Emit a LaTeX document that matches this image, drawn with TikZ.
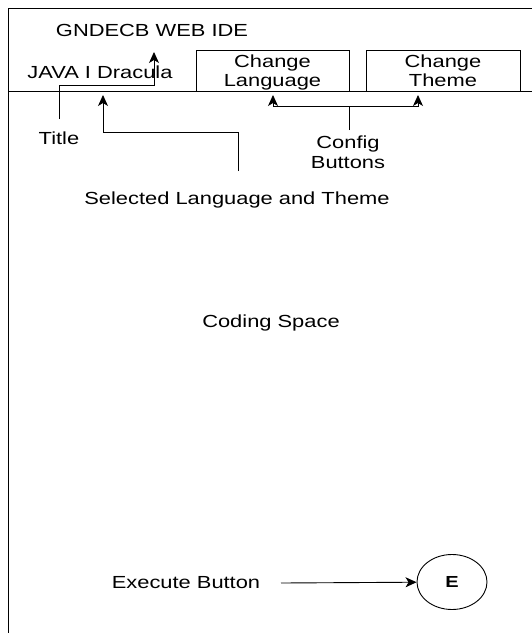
\documentclass[tikz,border=0pt]{standalone}
\usepackage{fontspec}
\setmainfont{Liberation Sans}[FakeStretch=1.25]
\usetikzlibrary{arrows.meta,shapes.geometric}
\tikzset{
  lbl/.style={inner sep=0pt,font=\fontsize{17.5}{19}\selectfont,align=center},
  btn/.style={draw,lbl,minimum height=41pt,text depth=0pt},
  tip/.style={-{Stealth[length=11pt,width=10pt,inset=3pt]}}
}

\begin{document}
\begin{tikzpicture}[x=1pt,y=-1pt,line width=0.9pt]
    \useasboundingbox (0,0) rectangle (532,633);

    \draw (532,8) -- (8,8) -- (8,633);
    \draw (8,91) -- (532,91);

    \path
    (152,30) node[lbl] (title) {GNDECB WEB IDE}
    (100,72) node[lbl] (langtheme) {JAVA I Dracula}
    (272.5,70.5) node[btn,minimum width=153pt] (langbtn) {Change\\Language}
    (443,70.5) node[btn,minimum width=154pt] (themebtn) {Change\\Theme}
    ;

    \path
    (59,138) node[lbl] (titlelbl) {Title}
    (348,152) node[lbl,text depth=0pt] (configlbl) {Config\\[1pt]Buttons}
    (237,200) node[lbl] (sellbl) {Selected Language and Theme}
    (271,323) node[lbl] (codelbl) {Coding Space}
    (186,583) node[lbl] (execlbl) {Execute Button}
    (452,582) node[draw,ellipse,minimum width=70pt,minimum height=55pt,
      inner sep=0pt,font=\fontsize{16}{16}\selectfont\bfseries] (execbtn) {E}
    ;

    % pointers from the labels
    \coordinate (t0) at (59,119);
    \coordinate (t1) at (154,52);
    \draw[tip] (t0) -- ++(0,-34) -| (t1);

    \coordinate (s0) at (238,171);
    \coordinate (s1) at (103,95);
    \draw[tip] (s0) -- ++(0,-39) -| (s1);

    \coordinate (c0) at (349,130);
    \coordinate (c1) at (349,106);
    \coordinate (l1) at (273,95);
    \coordinate (th1) at (418,95);
    \draw (c0) -- (c1);
    \draw[tip] (c1) -| (l1);
    \draw[tip] (c1) -| (th1);

    \coordinate (e0) at (281,583);
    \draw[tip] (e0) -- (execbtn);
\end{tikzpicture}
\end{document}
